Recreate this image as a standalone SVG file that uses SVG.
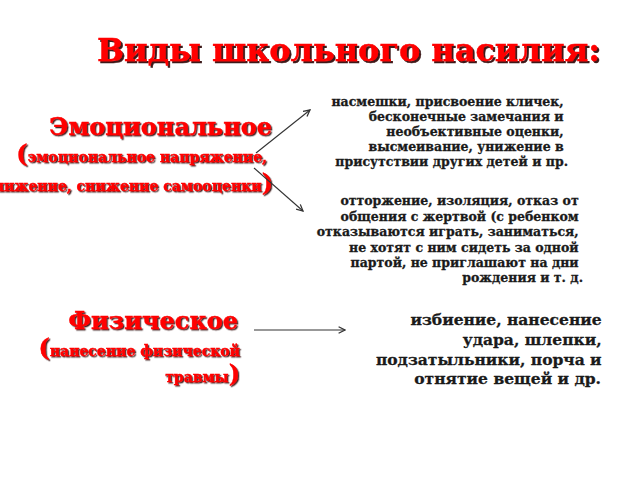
<svg xmlns="http://www.w3.org/2000/svg" width="640" height="480" viewBox="0 0 640 480">
<defs>
<style>
.t{font-family:"DejaVu Serif","Liberation Serif",serif;font-weight:bold}
.red{fill:#ff0000;stroke:#ff0000;stroke-width:0.4}
.blk{fill:#1a1a1a;stroke:#1a1a1a;stroke-width:0.3}
.conn{stroke:#333;stroke-width:1.1;fill:none}
</style>
<filter id="sh" x="-10%" y="-20%" width="120%" height="150%">
<feDropShadow dx="2" dy="2" stdDeviation="0.6" flood-color="#2a0000" flood-opacity="0.9"/>
</filter>
<filter id="sh1" x="-10%" y="-20%" width="120%" height="150%">
<feDropShadow dx="1.3" dy="1.3" stdDeviation="0.5" flood-color="#2a0000" flood-opacity="0.85"/>
</filter>
<marker id="ah" viewBox="0 0 10 10" refX="9" refY="5" markerWidth="8" markerHeight="8" markerUnits="userSpaceOnUse" orient="auto">
<path d="M1,1 L9,5 L1,9" fill="none" stroke="#333" stroke-width="1.6"/>
</marker>
</defs>
<rect width="640" height="480" fill="#ffffff"/>
<g id="title">
<text class="t red" x="97" y="61" font-size="31" textLength="503" lengthAdjust="spacingAndGlyphs" filter="url(#sh)">Виды школьного насилия:</text>
</g>
<g id="emotional">
<text class="t red" x="272" y="135" font-size="24" text-anchor="end" filter="url(#sh1)">Эмоциональное</text>
<text class="t red" x="267" y="162" font-size="14" text-anchor="end" filter="url(#sh1)"><tspan font-size="24">(</tspan>эмоциональное напряжение,</text>
<text class="t red" x="273" y="191" font-size="14" text-anchor="end" filter="url(#sh1)">унижение, снижение самооценки<tspan font-size="24">)</tspan></text>
</g>
<g id="emotional-1">
<text class="t blk" font-size="12.5" text-anchor="end">
<tspan x="568" y="106">насмешки, присвоение кличек,</tspan>
<tspan x="568" y="121">бесконечные замечания и</tspan>
<tspan x="568" y="136">необъективные оценки,</tspan>
<tspan x="568" y="151">высмеивание, унижение в</tspan>
<tspan x="568" y="166">присутствии других детей и пр.</tspan>
</text>
</g>
<g id="emotional-2">
<text class="t blk" font-size="12.5" text-anchor="end">
<tspan x="583" y="205">отторжение, изоляция, отказ от</tspan>
<tspan x="583" y="221">общения с жертвой (с ребенком</tspan>
<tspan x="583" y="236">отказываются играть, заниматься,</tspan>
<tspan x="583" y="252">не хотят с ним сидеть за одной</tspan>
<tspan x="583" y="267">партой, не приглашают на дни</tspan>
<tspan x="583" y="282">рождения и т. д.</tspan>
</text>
</g>
<g id="physical">
<text class="t red" x="238" y="329" font-size="24" text-anchor="end" filter="url(#sh1)">Физическое</text>
<text class="t red" x="240" y="356" font-size="14" text-anchor="end" filter="url(#sh1)"><tspan font-size="24">(</tspan>нанесение физической</text>
<text class="t red" x="240" y="382" font-size="14" text-anchor="end" filter="url(#sh1)">травмы<tspan font-size="24">)</tspan></text>
</g>
<g id="physical-1">
<text class="t blk" font-size="15.5" text-anchor="end">
<tspan x="607" y="325">избиение, нанесение</tspan>
<tspan x="607" y="345">удара, шлепки,</tspan>
<tspan x="607" y="365">подзатыльники, порча и</tspan>
<tspan x="601" y="384">отнятие вещей и др.</tspan>
</text>
</g>
<g id="connectors">
<line class="conn" x1="256" y1="153" x2="310" y2="110" marker-end="url(#ah)"/>
<line class="conn" x1="254" y1="168" x2="303" y2="211" marker-end="url(#ah)"/>
<line class="conn" x1="254" y1="330" x2="345" y2="330" marker-end="url(#ah)"/>
</g>
</svg>
